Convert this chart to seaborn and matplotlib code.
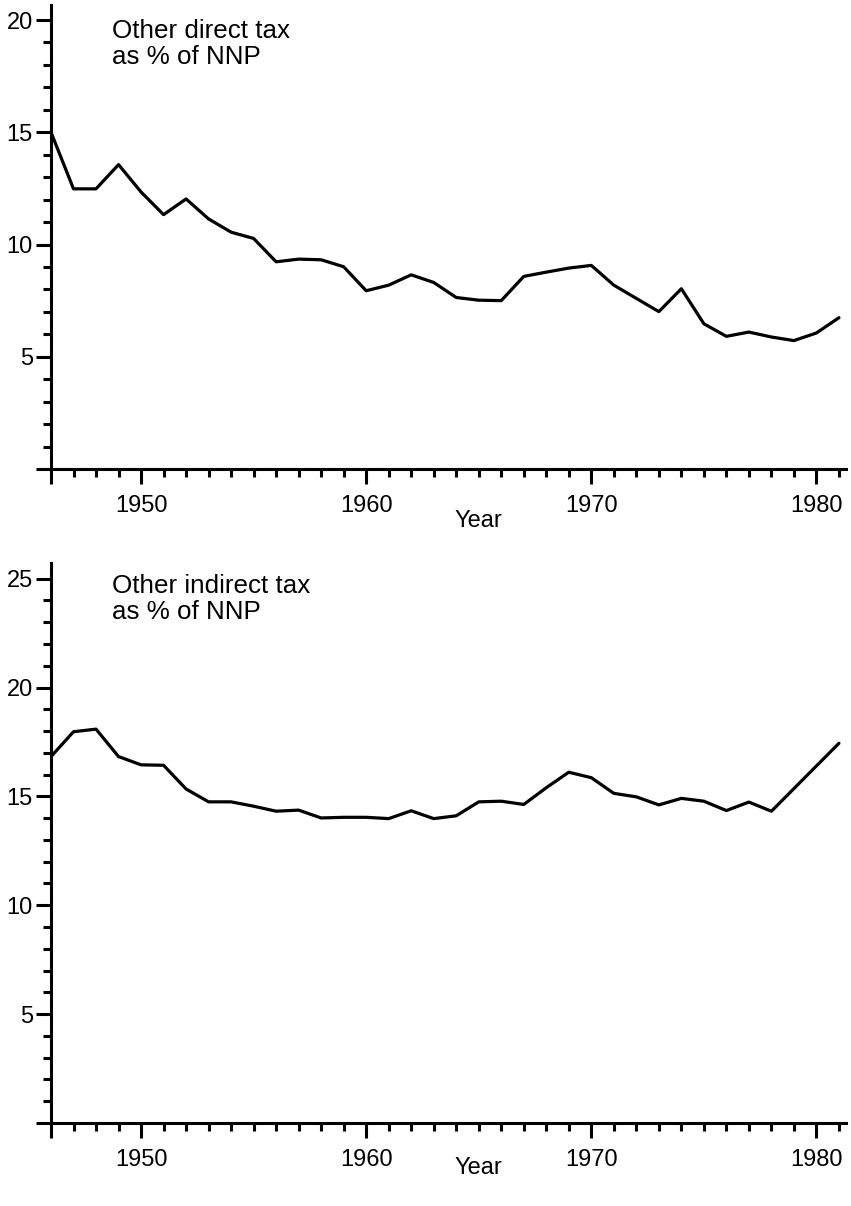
import numpy as np
import pandas as pd
import matplotlib
matplotlib.use("Agg")
import matplotlib.pyplot as plt
import seaborn as sns
from matplotlib.ticker import MultipleLocator

# other direct tax as % of NNP
years_direct = list(range(1946, 1982))
direct_tax = [15.0, 12.48, 12.48, 13.56, 12.34, 11.33, 12.03, 11.14, 10.55, 10.27,
              9.23, 9.35, 9.32, 9.01, 7.94, 8.19, 8.65, 8.31, 7.64, 7.52,
              7.50, 8.58, 8.77, 8.95, 9.07, 8.19, 7.60, 7.01, 8.03, 6.47,
              5.91, 6.10, 5.88, 5.72, 6.06, 6.74]

# other indirect tax as % of NNP (no values for 1979-1980)
years_indirect = list(range(1946, 1979)) + [1981]
indirect_tax = [16.83, 17.97, 18.09, 16.83, 16.45, 16.43, 15.34, 14.75, 14.75, 14.55,
                14.32, 14.37, 14.01, 14.04, 14.04, 13.98, 14.34, 13.98, 14.11, 14.75,
                14.78, 14.63, 15.40, 16.11, 15.86, 15.14, 14.98, 14.61, 14.91, 14.78,
                14.35, 14.74, 14.32, 17.44]

titles = ["Other direct tax\nas % of NNP", "Other indirect tax\nas % of NNP"]
yticks = [[0, 5, 10, 15, 20], [0, 5, 10, 15, 20, 25]]
ytops = [20.67, 25.72]
xticks = [1946, 1950, 1960, 1970, 1980]

sns.set_style("ticks", {"axes.edgecolor": "black", "xtick.color": "black",
                        "ytick.color": "black", "text.color": "black",
                        "axes.labelcolor": "black"})
plt.rcParams['font.family'] = ['Liberation Sans', 'DejaVu Sans']

fig = plt.figure(figsize=(8.51, 12.06), dpi=100)
W, H = 851, 1206
boxes = [(51, 469, 5), (51, 1123, 563)]  # left, bottom, top in px
right = 845.7

df1 = pd.DataFrame({"Year": years_direct, "val": direct_tax})
df2 = pd.DataFrame({"Year": years_indirect, "val": indirect_tax})
year_y = [-0.112, -0.080]

for i, (df, (l, b, t)) in enumerate(zip([df1, df2], boxes)):
    ax = fig.add_axes([l / W, 1 - b / H, (right - l) / W, (b - t) / H])
    sns.lineplot(data=df, x="Year", y="val", ax=ax, color="black", linewidth=2.3)
    ax.set_xlim(1946, 1981.3)
    ax.set_ylim(0, ytops[i])
    sns.despine(ax=ax)
    for s in ["left", "bottom"]:
        ax.spines[s].set_linewidth(2.2)
    ax.set_xticks(xticks)
    ax.set_xticklabels([""] + [str(x) for x in xticks[1:]])
    ax.set_yticks(yticks[i])
    ax.set_yticklabels([""] + [str(y) for y in yticks[i][1:]])
    ax.xaxis.set_minor_locator(MultipleLocator(1))
    ax.yaxis.set_minor_locator(MultipleLocator(1))
    ax.tick_params(which="major", length=11, width=2.2, labelsize=17, direction="out")
    ax.tick_params(which="minor", length=5.8, width=2.2, direction="out")
    ax.tick_params(axis="x", which="major", pad=8)
    ax.tick_params(axis="y", which="major", pad=2)
    ax.set_ylabel("")
    ax.set_xlabel("Year", fontsize=17)
    ax.xaxis.label.set_va("center")
    ax.xaxis.set_label_coords(0.538, year_y[i])
    ax.text(0.077, 0.98 if i else 0.97, titles[i], transform=ax.transAxes,
            fontsize=18.7, va="top", ha="left", linespacing=1.1)
    ax.patch.set_alpha(0)

fig.savefig("out.png", dpi=100)
